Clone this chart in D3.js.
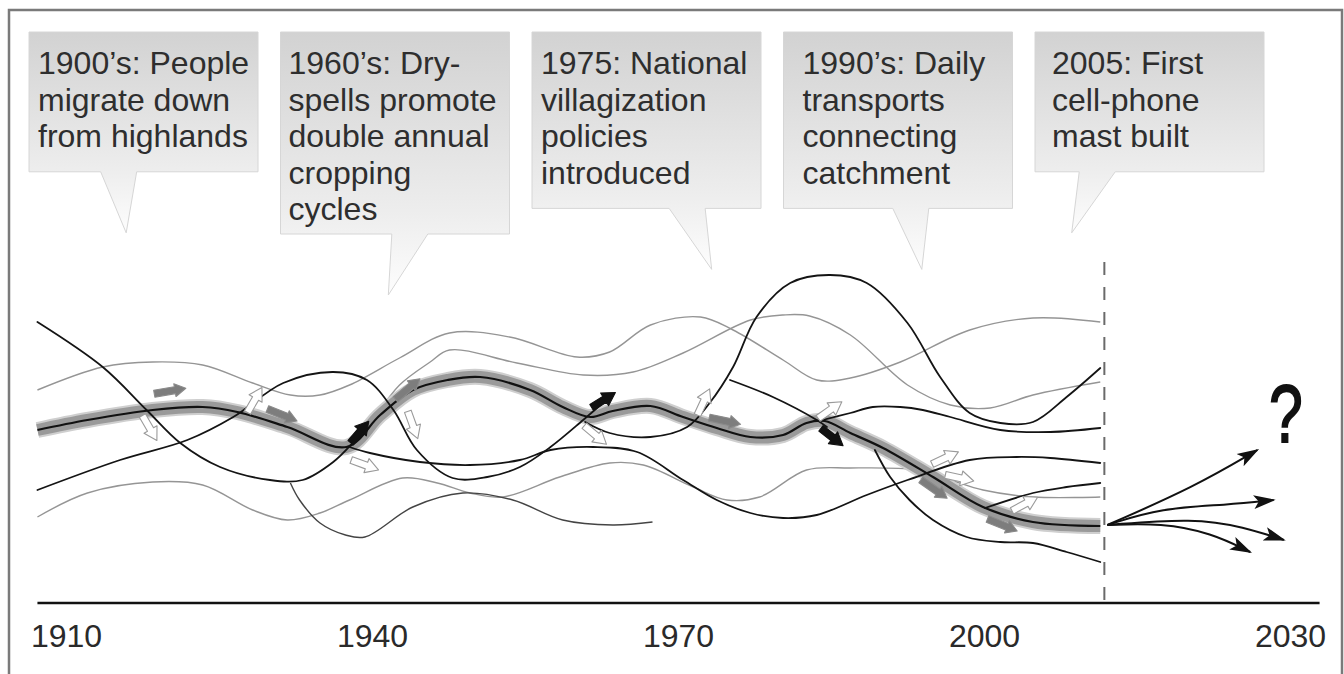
<!DOCTYPE html>
<html>
<head>
<meta charset="utf-8">
<script src="https://cdn.jsdelivr.net/npm/d3@7"></script>
<style>
  html, body { margin: 0; padding: 0; background: #fff; }
  svg { display: block; }
  text { font-family: "Liberation Sans", Arial, sans-serif; }
</style>
</head>
<body>
<svg id="chart" width="1344" height="674"></svg>
<script>
/* --------------------- data ---------------------- */

const tickYears = [1910, 1940, 1970, 2000, 2030];
const presentYear = 2011.8;

// callout texts and the year each tail points at
const eventLabels = [
	["1900’s: People", "migrate down", "from highlands"],
	["1960’s: Dry-", "spells promote", "double annual", "cropping", "cycles"],
	["1975: National", "villagization", "policies", "introduced"],
	["1990’s: Daily", "transports", "connecting", "catchment"],
	["2005: First", "cell-phone", "mast built"]
];
const eventYears = [1915.9, 1941.6, 1973.3, 1993.9, 2008.6];

// trajectories as [year, level] pairs
const mainPath = [[1907.2,17.3],[1912.1,18.3],[1918.5,19.3],[1923.4,19.6],[1926.8,19.1],[1931.7,17.6],
	[1937.5,15.6],[1940.8,18.8],[1944.0,21.3],[1947.4,22.3],[1950.6,22.6],[1955.5,21.3],[1958.7,19.6],
	[1961.4,18.6],[1963.6,19.2],[1967.3,19.7],[1970.5,18.6],[1973.8,17.5],[1977.1,16.6],[1980.3,16.8],
	[1982.6,18.0],[1984.4,18.2],[1986.9,17.0],[1990.1,15.5],[1995.0,12.6],[1999.9,9.6],[2004.8,8.1],[2011.4,7.7]];

const pathA = [[1907.2,28.1],[1913.6,23.6],[1917.9,19.3],[1921.2,16.0],[1925.1,13.6],[1930.0,12.3],
	[1933.2,12.3],[1936.2,14.1],[1938.1,16.0],[1939.0,17.1]];
const pathB = [[1907.2,11.3],[1915.3,14.3],[1921.9,16.3],[1926.4,18.6],[1931.3,22.0],[1936.2,23.1],
	[1939.5,22.3],[1942.1,19.3],[1944.4,15.3],[1947.9,12.5],[1951.3,12.6],[1954.5,13.6],[1957.5,15.6],
	[1960.7,18.3],[1962.4,19.8]];
const pathC = [[1960.9,18.1],[1963.3,17.0],[1967.3,16.6],[1970.9,17.6],[1973.1,20.0],[1975.4,23.6],
	[1977.7,28.6],[1981.0,32.0],[1984.9,32.8],[1988.5,32.0],[1992.5,28.0],[1995.7,22.6],[1998.6,19.0],
	[2001.6,18.0],[2004.8,18.1],[2008.1,20.6],[2011.4,23.5]];
const pathE = [[1975.1,22.3],[1979.3,20.6],[1983.6,18.3],[1984.6,17.6]];
const pathF = [[1937.8,15.6],[1939.8,15.0],[1944.7,14.1],[1949.6,13.8],[1954.5,14.3],[1957.5,15.3],
	[1961.7,15.6],[1966.0,15.1],[1970.5,12.3],[1973.8,10.3],[1977.1,9.0],[1980.3,8.5],[1983.6,8.8],
	[1988.5,10.8],[1992.5,12.3],[1998.6,14.3],[2003.2,14.6],[2006.5,14.5],[2011.4,14.0]];
const pathH = [[1984.2,18.3],[1986.9,19.0],[1989.1,19.6],[1991.8,19.6],[1994.0,19.3],[1996.7,18.6],
	[2001.6,17.3],[2006.5,17.1],[2011.4,17.5]];
const pathI = [[2000.1,9.5],[2004.8,11.0],[2008.1,11.6],[2011.4,12.0]];
const pathJ = [[1989.3,15.3],[1990.8,12.6],[1992.7,10.3],[1995.0,8.3],[1998.3,6.6],[2001.6,6.1],
	[2004.8,6.0],[2008.1,5.1],[2011.4,4.1]];

const grayA = [[1907.2,21.3],[1913.6,23.6],[1918.5,24.1],[1923.4,23.8],[1928.3,22.0],[1932.0,20.8],
	[1934.9,20.8],[1937.8,21.8],[1942.7,24.5],[1947.6,27.0],[1953.5,26.6],[1960.1,24.6],[1963.3,25.1],
	[1967.3,27.8],[1972.2,28.6],[1975.4,27.3],[1980.3,24.3],[1983.6,22.3],[1986.9,22.5],[1991.8,24.1],
	[1998.6,27.3],[2004.8,28.5],[2011.4,28.1]];
const grayB = [[1940.6,19.0],[1942.7,21.8],[1945.7,24.1],[1947.6,25.3],[1954.2,24.0],[1960.7,22.8],
	[1965.6,23.1],[1970.5,25.0],[1977.1,28.3],[1980.3,28.8],[1982.9,28.7],[1986.9,26.8],[1992.5,21.8],
	[1996.7,19.8],[2000.6,19.5],[2004.8,20.8],[2011.4,22.1]];
const grayC = [[1907.2,8.6],[1912.1,11.0],[1918.5,12.1],[1923.4,11.8],[1928.3,9.3],[1931.7,8.3],
	[1934.9,9.0],[1937.8,10.3],[1943.0,12.5],[1946.4,12.0],[1949.6,11.0],[1952.8,10.6],[1958.4,12.6],
	[1963.3,14.0],[1966.6,13.8],[1971.5,11.6],[1974.8,10.3],[1978.0,10.6],[1982.6,13.3],[1986.9,13.5],
	[1993.4,13.3],[1996.7,12.3],[1999.9,11.3],[2004.8,10.6],[2011.4,10.6]];
const darkD = [[1932.0,12.0],[1932.9,10.3],[1934.9,8.0],[1937.4,6.8],[1939.3,6.6],[1944.0,9.6],
	[1948.9,11.0],[1953.8,10.3],[1958.7,8.3],[1963.6,7.8],[1967.5,8.1]];

// possible futures after the present
const futureA = [[2012.1,7.8],[2020.6,11.6],[2026.8,15.3]];
const futureB = [[2012.1,7.8],[2017.4,9.5],[2023.8,9.8],[2028.4,10.3]];
const futureC = [[2012.1,7.8],[2020.6,8.5],[2025.5,7.6],[2029.4,6.3]];
const futureD = [[2012.1,7.8],[2017.4,8.0],[2022.3,7.0],[2026.1,5.1]];

// small block arrows along the trajectories
const arrowYears  = [1918.2, 1928.5, 1939.3, 1944.0, 1961.9, 1972.5, 1984.9, 1996.2, 1997.6, 2004.0,
	1920.2, 1931.2, 1943.5, 1974.6, 1995.1, 2001.8,
	1938.8, 1962.7, 1985.1];
const arrowLevels = [17.5, 20.3, 13.8, 17.8, 16.8, 20.1, 19.3, 14.5, 12.5, 9.9,
	21.2, 18.8, 21.4, 18.2, 11.4, 7.8,
	17.1, 20.3, 16.6];
const arrowAngles = [60, -60, 20, 70, 40, -65, -35, -25, 12, -28,
	-10, 22, -40, 12, 35, 22,
	-50, -32, 38];
const arrowKinds  = ['out','out','out','out','out','out','out','out','out','out',
	'along','along','along','along','along','along',
	'in','in','in'];

/* --------------------- drawing ---------------------- */

const svg = d3.select('#chart');
const x = d3.scaleLinear().domain([1910, 2030]).range([66, 1290]);
const y = d3.scaleLinear().domain([0, 35]).range([603, 253]);

const line = d3.line()
	.x(d => x(d[0]))
	.y(d => y(d[1]))
	.curve(d3.curveCatmullRom.alpha(0.5));

const defs = svg.append('defs');
let grad = defs.append('linearGradient').attr('id', 'boxGrad')
	.attr('x1', 0).attr('y1', 0).attr('x2', 0).attr('y2', 1);
grad.append('stop').attr('offset', '0%').attr('stop-color', '#d2d2d2');
grad.append('stop').attr('offset', '68%').attr('stop-color', '#ededed');
grad.append('stop').attr('offset', '100%').attr('stop-color', '#fdfdfd');

defs.append('marker')
	.attr('id', 'head')
	.attr('markerUnits', 'userSpaceOnUse')
	.attr('viewBox', '0 0 22 16')
	.attr('markerWidth', 22).attr('markerHeight', 16)
	.attr('refX', 20).attr('refY', 8)
	.attr('orient', 'auto')
	.append('path')
	.attr('d', 'M0,1L22,8L0,15L5,8Z')
	.attr('fill', '#111');

// outer frame
svg.append('rect')
	.attr('x', 9).attr('y', 10).attr('width', 1333).attr('height', 700)
	.attr('fill', 'none').attr('stroke', '#7a7a7a').attr('stroke-width', 2.5);

// callouts
const boxW = 229, boxTop = 32, lineStep = 36.6;
const textPad = [9, 8, 9, 19, 17];
const tailLean = [-7.5, 21.5, -24.5, -11, 25.5];

eventLabels.forEach((lines, i) => {
	let left = 29 + i * 251.5;
	let bottom = boxTop + 30 + lineStep * Math.min(lines.length, 4.7);
	let tipX = x(eventYears[i]);
	let tipY = bottom + 61;
	let baseC = tipX + tailLean[i];
	let p = `M${left},${boxTop}H${left + boxW}V${bottom}H${baseC + 18}L${tipX},${tipY}L${baseC - 18},${bottom}H${left}Z`;
	svg.append('path')
		.attr('d', p)
		.attr('fill', 'url(#boxGrad)')
		.attr('stroke', '#d6d6d6')
		.attr('stroke-width', 1);

	let t = svg.append('text')
		.attr('x', left + textPad[i])
		.attr('y', 74)
		.attr('font-size', 32)
		.attr('fill', '#2e2e2e');
	lines.forEach((s, k) => {
		t.append('tspan')
			.attr('x', left + textPad[i])
			.attr('y', 74 + k * lineStep)
			.text(s);
	});
});

// gray trajectories
[grayA, grayB, grayC].forEach(d => {
	svg.append('path').attr('d', line(d))
		.attr('fill', 'none').attr('stroke', '#959595').attr('stroke-width', 1.4);
});
svg.append('path').attr('d', line(darkD))
	.attr('fill', 'none').attr('stroke', '#444').attr('stroke-width', 1.4);

// main trajectory band
svg.append('path').attr('d', line(mainPath))
	.attr('fill', 'none').attr('stroke', '#cfcfcf').attr('stroke-width', 16)
	.attr('stroke-linecap', 'butt');
svg.append('path').attr('d', line(mainPath))
	.attr('fill', 'none').attr('stroke', '#9a9a9a').attr('stroke-width', 12)
	.attr('stroke-linecap', 'butt');

// black trajectories
[pathA, pathB, pathC, pathE, pathF, pathH, pathI, pathJ].forEach(d => {
	svg.append('path').attr('d', line(d))
		.attr('fill', 'none').attr('stroke', '#141414').attr('stroke-width', 1.8)
		.attr('stroke-linecap', 'round');
});
svg.append('path').attr('d', line(mainPath))
	.attr('fill', 'none').attr('stroke', '#111').attr('stroke-width', 2.2);

// block arrows
function blockArrow(len, shaft, head) {
	let h = len / 2, b = h - head * 0.85;
	return `M${-h},${-shaft / 2}L${b},${-shaft / 2}L${b},${-head / 2}L${h},0L${b},${head / 2}L${b},${shaft / 2}L${-h},${shaft / 2}Z`;
}
const arrowStyle = {
	out:   {d: blockArrow(29, 7, 15), fill: '#fff', stroke: '#9a9a9a'},
	along: {d: blockArrow(32, 7, 13), fill: '#7d7d7d', stroke: '#8a8a8a'},
	in:    {d: blockArrow(28, 7, 15), fill: '#111', stroke: '#111'}
};
arrowYears.forEach((yr, i) => {
	let st = arrowStyle[arrowKinds[i]];
	svg.append('path')
		.attr('d', st.d)
		.attr('transform', `translate(${x(yr)},${y(arrowLevels[i])}) rotate(${arrowAngles[i]})`)
		.attr('fill', st.fill)
		.attr('stroke', st.stroke)
		.attr('stroke-width', 1.1)
		.attr('stroke-linejoin', 'round');
});

// present day marker
svg.append('line')
	.attr('x1', x(presentYear)).attr('x2', x(presentYear))
	.attr('y1', y(34.1)).attr('y2', y(0.3))
	.attr('stroke', '#6a6a6a').attr('stroke-width', 2)
	.attr('stroke-dasharray', '13 12');

// futures
[futureA, futureB, futureC, futureD].forEach(d => {
	svg.append('path').attr('d', line.curve(d3.curveBasis)(d))
		.attr('fill', 'none').attr('stroke', '#111').attr('stroke-width', 2)
		.attr('marker-end', 'url(#head)');
});
line.curve(d3.curveCatmullRom.alpha(0.5));

svg.append('text')
	.attr('transform', `translate(${x(2029.6)},${y(16.1)}) scale(0.74,1)`)
	.attr('text-anchor', 'middle')
	.attr('font-size', 82)
	.attr('fill', '#111')
	.attr('stroke', '#111')
	.attr('stroke-width', 1.8)
	.text('?');

// time axis
svg.append('line')
	.attr('x1', x(1907.2)).attr('x2', x(2032.9))
	.attr('y1', y(0)).attr('y2', y(0))
	.attr('stroke', '#111').attr('stroke-width', 2.5);

let gAxis = svg.append('g')
	.attr('transform', `translate(0,${y(0)})`)
	.call(d3.axisBottom(x).tickValues(tickYears).tickFormat(d3.format('d')).tickSize(0).tickPadding(21));
gAxis.select('.domain').remove();
gAxis.selectAll('text')
	.attr('font-size', 32)
	.attr('font-family', '"Liberation Sans", Arial, sans-serif')
	.attr('fill', '#2a2a2a');
</script>
</body>
</html>
